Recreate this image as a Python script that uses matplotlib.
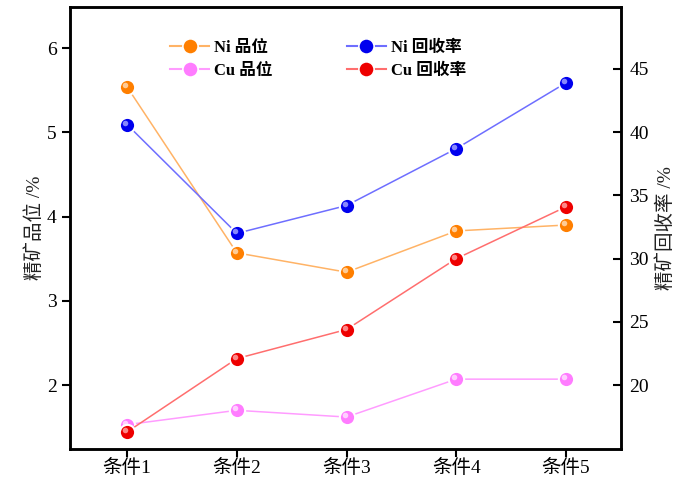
import matplotlib
matplotlib.use("Agg")
from matplotlib import pyplot as plt
from matplotlib.lines import Line2D
from matplotlib import transforms
import numpy as np

plt.rcParams['font.family'] = ['Liberation Serif', 'Noto Sans CJK SC']

condiciones = ["条件1", "条件2", "条件3", "条件4", "条件5"]
ni_grado = [5.54, 3.57, 3.34, 3.83, 3.90]
cu_grado = [1.53, 1.70, 1.62, 2.07, 2.07]
ni_recuperacion = [40.6, 32.0, 34.2, 38.7, 43.9]
cu_recuperacion = [16.3, 22.1, 24.4, 30.0, 34.1]

x = np.arange(1, len(condiciones) + 1)

fig = plt.figure(figsize=(7, 4.94), dpi=100)
ax = fig.add_axes([0.1, 0.091, 0.787, 0.895])
ax2 = ax.twinx()


def serie(eje, y, color_linea, color_bola, color_brillo):
    eje.plot(x, y, color=color_linea, lw=1.1, zorder=2)
    eje.plot(x, y, ls='none', marker='o', ms=11, mfc=color_bola,
             mec='white', mew=1.5, zorder=3)
    # brillo de la esfera, corrido arriba a la izquierda
    desplazado = transforms.offset_copy(eje.transData, fig=fig, x=-2, y=2, units='dots')
    eje.plot(x, y, ls='none', marker='o', ms=4, mfc=color_brillo, mec='none',
             alpha=0.85, zorder=4, transform=desplazado)


serie(ax, ni_grado, '#FFB366', '#FF7F00', '#FFD9B0')
serie(ax, cu_grado, '#FF9CFF', '#FF7CFF', '#FFE0FF')
serie(ax2, ni_recuperacion, '#6E6EFF', '#0000EE', '#A0A0FF')
serie(ax2, cu_recuperacion, '#FF6E6E', '#EE0000', '#FFA0A0')

ax.set_xlim(0.48, 5.5)
ax.set_ylim(1.24, 6.49)
ax2.set_ylim(14.95, 49.9)
ax.set_xticks(x)
ax.set_xticklabels(condiciones)
ax.set_yticks([2, 3, 4, 5, 6])
ax2.set_yticks([20, 25, 30, 35, 40, 45])

ax.set_ylabel("精矿品位 /%", fontsize=14, color='#222222', labelpad=2)
ax2.set_ylabel("精矿回收率 /%", fontsize=14, color='#222222', labelpad=5)

for eje in (ax, ax2):
    for s in eje.spines.values():
        s.set_linewidth(1.8)
ax.tick_params(axis='both', direction='out', length=6, width=1.5, labelsize=14)
ax.tick_params(axis='x', labelsize=14, pad=1)
ax2.tick_params(axis='y', which='both', direction='in', length=6, width=1.5,
                labelsize=14, pad=6)

manijas = [
    Line2D([], [], color='#FFB366', marker='o', ms=11, mfc='#FF7F00', mec='white', mew=1.2),
    Line2D([], [], color='#FF9CFF', marker='o', ms=11, mfc='#FF7CFF', mec='white', mew=1.2),
    Line2D([], [], color='#6E6EFF', marker='o', ms=11, mfc='#0000EE', mec='white', mew=1.2),
    Line2D([], [], color='#FF6E6E', marker='o', ms=11, mfc='#EE0000', mec='white', mew=1.2),
]
etiquetas = ["Ni 品位", "Cu 品位", "Ni 回收率", "Cu 回收率"]
ax2.legend(manijas, etiquetas, ncol=2, frameon=False, loc='upper left',
           bbox_to_anchor=(0.155, 0.96), prop={'weight': 'bold', 'size': 12},
           handlelength=2.3, columnspacing=4.5, labelspacing=0.45, handletextpad=0.3)

fig.savefig("out.png", dpi=100)
